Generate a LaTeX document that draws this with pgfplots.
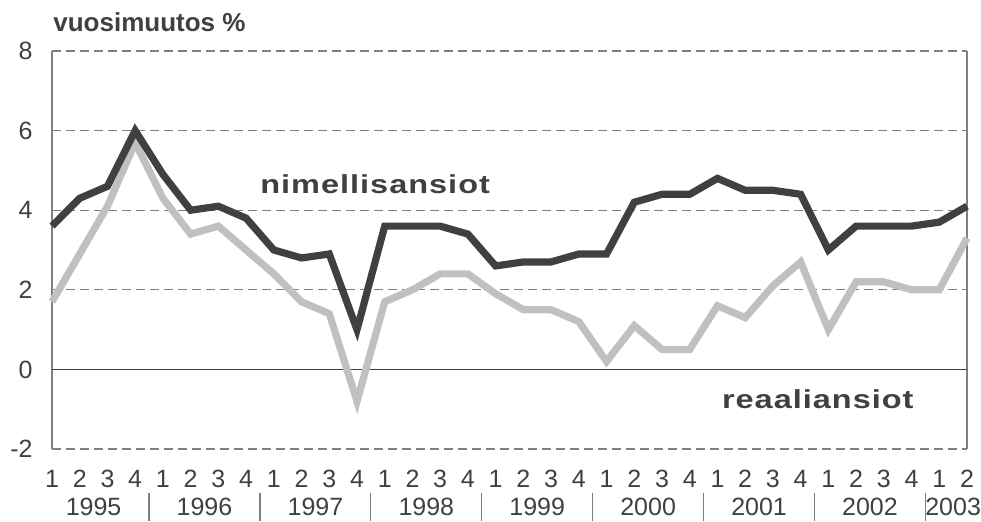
\documentclass[border=0pt]{standalone}
\usepackage{fontspec}
\setmainfont{Liberation Sans}
\newfontfamily\lblfont[FakeStretch=1.25, LetterSpace=3.8]{Liberation Sans}
\usepackage{pgfplots}
\pgfplotsset{compat=1.18}
\definecolor{dark}{HTML}{404040}
\definecolor{light}{HTML}{C0C0C0}
\definecolor{txt}{HTML}{404040}
\definecolor{gridc}{HTML}{808080}
\begin{document}
\begin{tikzpicture}
\begin{axis}[
  scale only axis, width=457.5pt, height=199pt,
  xmin=1, xmax=34, ymin=-2, ymax=8,
  ytick={-2,0,2,4,6,8},
  xtick={1,...,34},
  xticklabels={1,2,3,4,1,2,3,4,1,2,3,4,1,2,3,4,1,2,3,4,1,2,3,4,1,2,3,4,1,2,3,4,1,2},
  extra x ticks={2.5,6.5,10.5,14.5,18.5,22.5,26.5,30.5,33.5},
  extra x tick labels={1995,1996,1997,1998,1999,2000,2001,2002,2003},
  extra x tick style={xticklabel style={yshift=-14pt}},
  major tick length=0pt,
  tick style={draw=none},
  ymajorgrids,
  major grid style={gridc, line width=0.6pt, dash pattern=on 4.5pt off 2.5pt},
  separate axis lines,
  x axis line style={draw=none},
  y axis line style={gridc, line width=0.6pt},
  clip=false,
  /pgf/number format/assume math mode=true,
  tick label style={font=\fontsize{12.5}{14}\selectfont, text=txt},
  yticklabel style={anchor=east, inner sep=0pt, xshift=-9.5pt},
  xticklabel style={anchor=north, inner sep=0pt, yshift=-10.3pt},
]
\addplot[dark, line width=0.6pt] coordinates {(1,0) (34,0)};
\addplot[light, line width=3.6pt, line join=miter] coordinates {
(1,1.7) (2,2.9) (3,4.1) (4,5.7) (5,4.3) (6,3.4) (7,3.6) (8,3.0)
(9,2.4) (10,1.7) (11,1.4) (12,-0.8) (13,1.7) (14,2.0) (15,2.4) (16,2.4)
(17,1.9) (18,1.5) (19,1.5) (20,1.2) (21,0.2) (22,1.1) (23,0.5) (24,0.5)
(25,1.6) (26,1.3) (27,2.1) (28,2.7) (29,1.0) (30,2.2) (31,2.2) (32,2.0)
(33,2.0) (34,3.3)};
\addplot[dark, line width=3.6pt, line join=miter] coordinates {
(1,3.6) (2,4.3) (3,4.6) (4,6.0) (5,4.9) (6,4.0) (7,4.1) (8,3.8)
(9,3.0) (10,2.8) (11,2.9) (12,1.0) (13,3.6) (14,3.6) (15,3.6) (16,3.4)
(17,2.6) (18,2.7) (19,2.7) (20,2.9) (21,2.9) (22,4.2) (23,4.4) (24,4.4)
(25,4.8) (26,4.5) (27,4.5) (28,4.4) (29,3.0) (30,3.6) (31,3.6) (32,3.6)
(33,3.7) (34,4.1)};
\foreach \xx in {4.5,8.5,12.5,16.5,20.5,24.5,28.5,32.5}{
  \edef\tmp{\noexpand\draw[gridc, line width=0.6pt] ([yshift=-22pt]axis cs:\xx,-2) -- ([yshift=-36pt]axis cs:\xx,-2);}
  \tmp
}
\node[anchor=base west, inner sep=0pt, text=txt, font=\lblfont\bfseries\fontsize{13}{15}\selectfont] at (axis cs:8.5,4.42) {nimellisansiot};
\node[anchor=base west, inner sep=0pt, text=txt, font=\lblfont\bfseries\fontsize{13}{15}\selectfont] at (axis cs:25.15,-0.98) {reaaliansiot};
\node[anchor=base west, inner sep=0pt, text=txt, font=\bfseries\fontsize{13}{15}\selectfont] at ([xshift=0.5pt,yshift=9.5pt]rel axis cs:0,1) {vuosimuutos \%};
\path ([xshift=-26pt,yshift=25.5pt]rel axis cs:0,1) -- ([xshift=7pt,yshift=-36pt]rel axis cs:1,0);
\end{axis}
\end{tikzpicture}
\end{document}
